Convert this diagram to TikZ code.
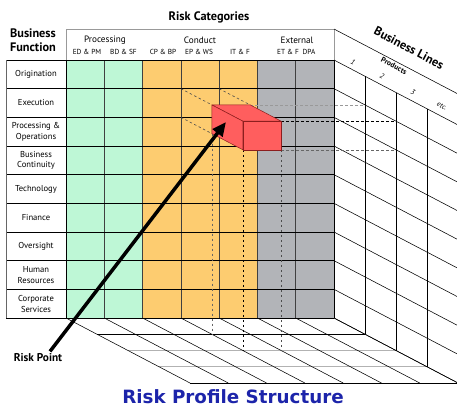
\documentclass[tikz,border=0pt]{standalone}
\usepackage{fontspec}
\setmainfont{PT Sans}
\newfontfamily\titlefont{DejaVu Sans}
\usetikzlibrary{arrows.meta}

\definecolor{procgreen}{RGB}{190,247,214}
\definecolor{condorange}{RGB}{253,204,112}
\definecolor{extgray}{RGB}{178,180,184}
\definecolor{boxred}{RGB}{255,94,94}
\definecolor{boxedge}{RGB}{140,30,30}
\definecolor{titleblue}{RGB}{28,36,170}

\tikzset{
  rowlabel/.style={font=\fontsize{8.6}{10.8}\selectfont, align=center},
  collabel/.style={font=\fontsize{7.3}{8}\selectfont, inner sep=1pt},
  grouplabel/.style={font=\fontsize{9.2}{10}\selectfont, inner sep=1pt},
  headlabel/.style={font=\bfseries\fontsize{12.3}{14.5}\selectfont, align=center},
  slicelabel/.style={font=\itshape\fontsize{7.3}{8}\selectfont, rotate=-27.7, inner sep=0pt},
  gridline/.style={black, line width=0.7pt},
  depthline/.style={black, line width=0.55pt},
  floorgray/.style={black!30, line width=1.3pt},
  hidden/.style={dash pattern=on 2.5pt off 2.5pt, line width=0.6pt},
  boxface/.style={fill=boxred, draw=boxedge, line width=0.5pt, line join=round}
}

\begin{document}
\begin{tikzpicture}[x=1pt,y=-1pt]
    \useasboundingbox (0,0) rectangle (457,408);

    % Column groups
    \fill[procgreen] (66,60) rectangle (142.6,318);
    \fill[condorange] (142.6,60) rectangle (257.4,318);
    \fill[extgray] (257.4,60) rectangle (334,318);

    % Header frame
    \draw[black!40, line width=0.6pt] (66,60) -- (66,29) -- (334,29) -- (334,60);

    % Floor (gray lines first)
    \foreach \k/\s in {1/depthline,2/floorgray,3/floorgray,4/depthline}
        \draw[\s] ({66+31*\k},{318+16.25*\k}) -- ({334+31*\k},{318+16.25*\k});
    \foreach \i in {0,...,7}
        \draw[depthline] ({66+38.286*\i},318) -- ++(124,65);

    % Right side: business lines
    \draw[depthline] (334,29) -- ++(124,65);
    \foreach \j in {0,...,9}
        \draw[depthline] (334,{60+28.667*\j}) -- ++(124,65);
    \foreach \k in {1,...,4}
        \draw[black, line width=0.8pt] ({334+31*\k},{60+16.25*\k}) -- ({334+31*\k},{318+16.25*\k});

    % Front grid
    \foreach \i in {1,...,6}
        \draw[black!75, line width=0.7pt] ({66+38.286*\i},60) -- ({66+38.286*\i},318);
    \foreach \j in {0,...,9}
        \draw[gridline] (6,{60+28.667*\j}) -- (334,{60+28.667*\j});
    \draw[black!60, line width=0.7pt] (6,60) -- (6,318);
    \draw[gridline] (66,60) -- (66,318);
    \draw[gridline] (334,60) -- (334,318);

    % Hidden lines of the risk point
    \coordinate (bt1) at (211.9,104.9);
    \coordinate (bt2) at (250.2,104.9);
    \coordinate (bb1) at (211.9,133.6);
    \coordinate (ft1) at (242.9,121.2);
    \coordinate (ft2) at (281.2,121.2);
    \coordinate (fb1) at (242.9,149.8);
    \coordinate (fb2) at (281.2,149.8);
    \draw[hidden, black!70] (180.9,88.67) -- (bt1);
    \draw[hidden, black!70] (219.1,88.67) -- (bt2);
    \draw[hidden, black!70] (180.9,117.3) -- (bb1);
    \draw[hidden, black!40] (bt2) -- (365,104.9);
    \draw[hidden, black] (ft2) -- (396,121.2);
    \draw[hidden, black!60] (fb2) -- (396,149.8);
    \draw[hidden, black!60] (bb1) -- (211.9,334.25);
    \draw[hidden, black] (fb1) -- (242.9,350.5);
    \draw[hidden, black!70] (fb2) -- (281.2,350.5);

    % Risk point box
    \draw[boxface] (bt1) -- (bt2) -- (ft2) -- (ft1) -- cycle;
    \draw[boxface] (bt1) -- (ft1) -- (fb1) -- (bb1) -- cycle;
    \draw[boxface] (ft1) rectangle (fb2);

    % Headings
    \node[headlabel] (riskcat) at (209,17) {Risk Categories};
    \node[headlabel] (bizfunc) at (33,40) {Business\\Function};

    % Risk categories
    \node[grouplabel] (g1) at (105,40) {Processing};
    \node[grouplabel] (g2) at (200,40) {Conduct};
    \node[grouplabel] (g3) at (297,40) {External};
    \node[collabel] (c1) at (87,51.5) {ED \& PM};
    \node[collabel] (c2) at (123.5,51.5) {BD \& SF};
    \node[collabel] (c3) at (163,51.5) {CP \& BP};
    \node[collabel] (c4) at (199,51.5) {EP \& WS};
    \node[collabel] (c5) at (240,51.5) {IT \& F};
    \node[collabel] (c6) at (288,51.5) {ET \& F};
    \node[collabel] (c7) at (309,51.5) {DPA};

    % Business functions
    \node[rowlabel] (r1) at (36,74.3) {Origination};
    \node[rowlabel] (r2) at (36,103.0) {Execution};
    \node[rowlabel] (r3) at (36,131.7) {Processing \&\\Operations};
    \node[rowlabel] (r4) at (36,160.3) {Business\\Continuity};
    \node[rowlabel] (r5) at (36,189.0) {Technology};
    \node[rowlabel] (r6) at (36,217.7) {Finance};
    \node[rowlabel] (r7) at (36,246.3) {Oversight};
    \node[rowlabel] (r8) at (36,275.0) {Human\\Resources};
    \node[rowlabel] (r9) at (36,303.7) {Corporate\\Services};

    % Business lines
    \node[headlabel, rotate=-27.7, inner sep=0pt] (bizlines) at (409,48) {Business Lines};
    \node[font=\bfseries\fontsize{7.5}{8}\selectfont, rotate=-27.7, inner sep=0pt] (products) at (394,66) {Products};
    \node[slicelabel] (s1) at (353,62) {1};
    \node[slicelabel] (s2) at (382,76) {2};
    \node[slicelabel] (s3) at (413,92) {3};
    \node[slicelabel] (s4) at (442,106) {etc.};

    % Risk point
    \node[font=\bfseries\fontsize{11.3}{13}\selectfont] (riskpt) at (38,358) {Risk Point};
    \coordinate (hit) at (226,122);
    \draw[-{Triangle[length=14pt,width=12pt]}, line width=3.5pt] ([xshift=12pt,yshift=-1pt]riskpt.north) -- (hit);

    % Title
    \node[font=\titlefont\bfseries\fontsize{18.3}{21}\selectfont, text=titleblue] (title) at (233,397) {Risk Profile Structure};
\end{tikzpicture}
\end{document}
